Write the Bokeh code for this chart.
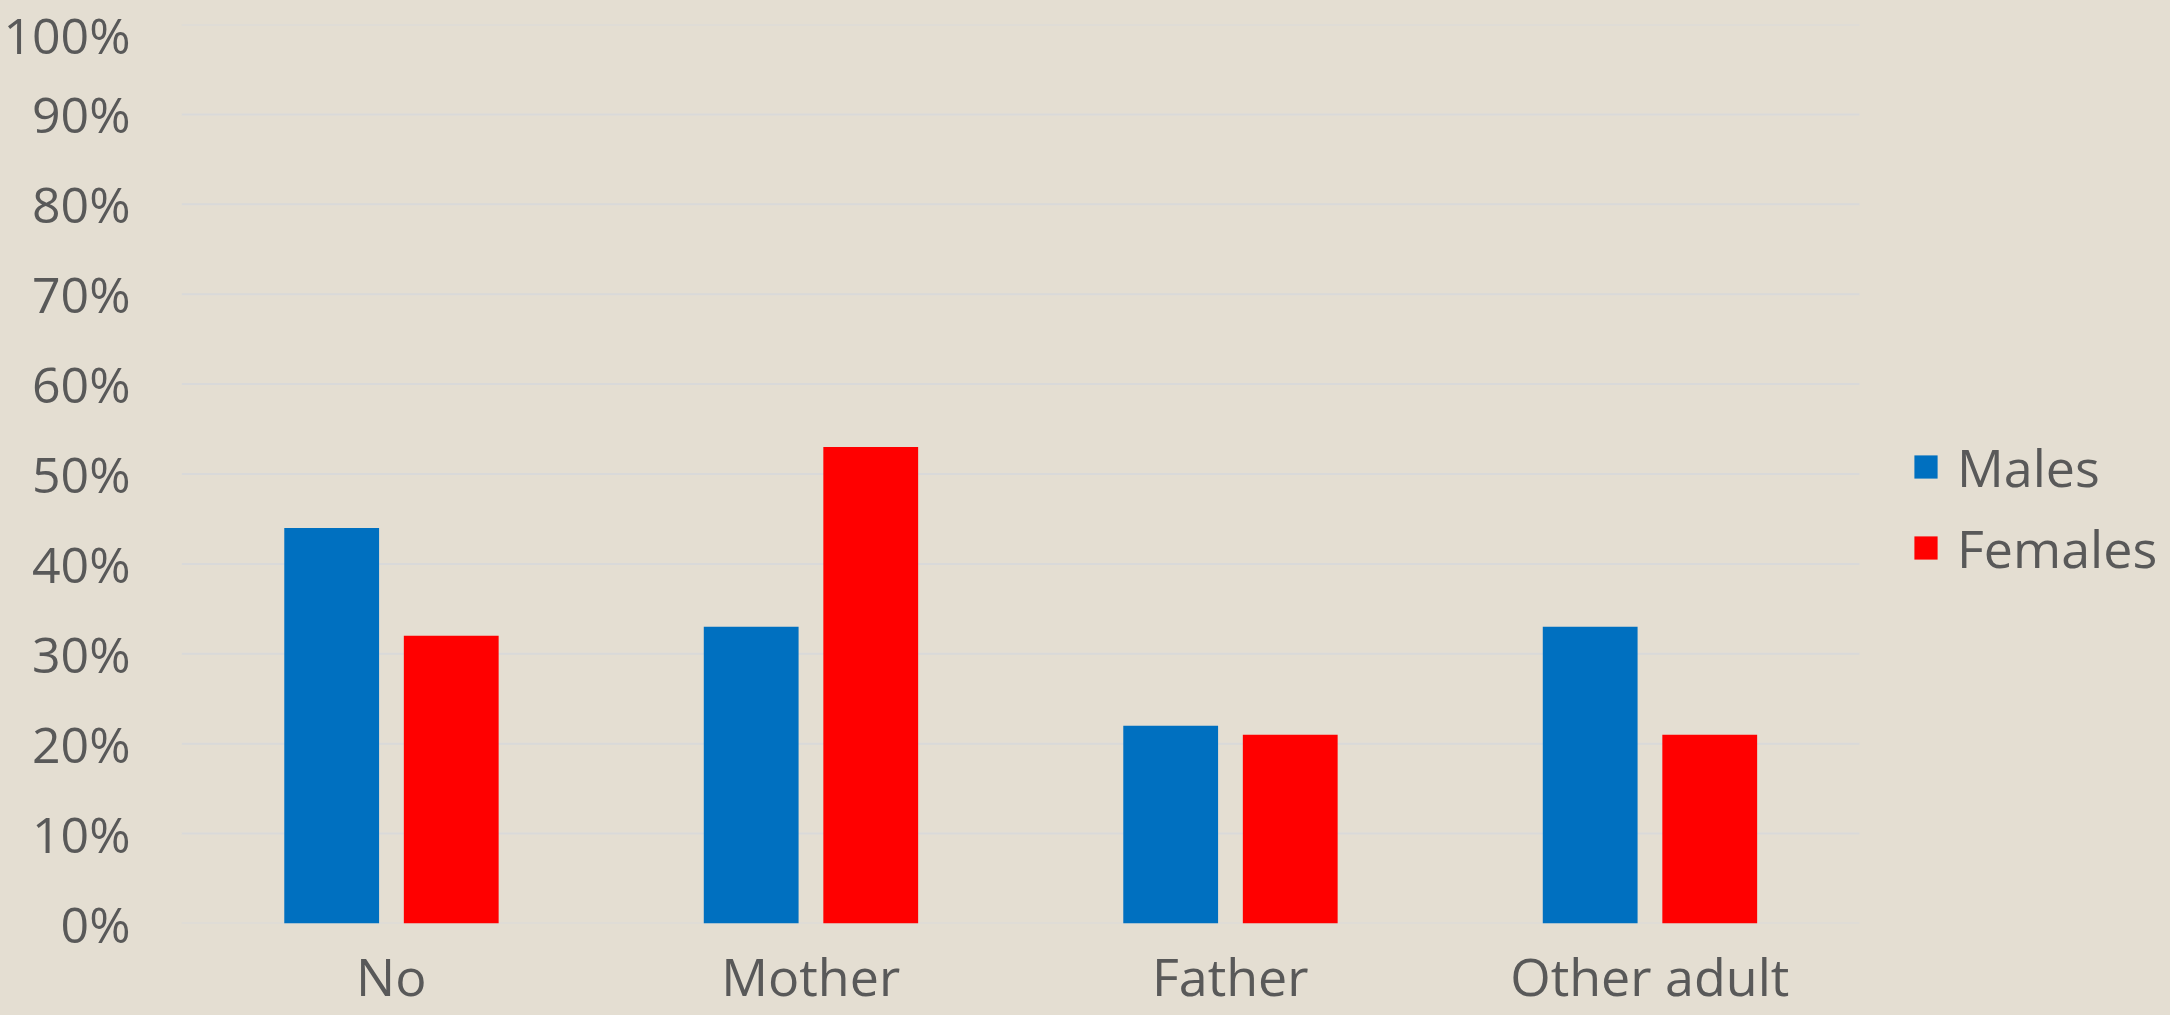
from bokeh.plotting import figure
from bokeh.models import (ColumnDataSource, Range1d, FixedTicker, PrintfTickFormatter,
                          Legend, LegendItem, GlobalInlineStyleSheet)
from bokeh.transform import dodge
from bokeh.embed import file_html
from bokeh.resources import INLINE

categories = ["No", "Mother", "Father", "Other adult"]
males = [44, 33, 22, 33]
females = [32, 53, 21, 21]
y_ticks = [0, 10, 20, 30, 40, 50, 60, 70, 80, 90, 100]

BG = "#E4DED2"
TXT = "#595959"
FONT = "Open Sans"
FS = "50px"
FS2 = "52px"

W, H = 2170, 1015
LEFT, TOP, BOTTOM = 181, 24, 92
CAT_PX = 419.5  # pixel width of one category slot

pos = list(range(1, len(categories) + 1))
src = ColumnDataSource(dict(pos=pos, cat=categories, males=males, females=females))

frame_w = W - LEFT
p = figure(width=W, height=H, x_range=Range1d(0.5, 0.5 + frame_w / CAT_PX), y_range=Range1d(0, 100),
           output_backend="svg", toolbar_location=None,
           min_border_left=LEFT, min_border_right=0, min_border_top=TOP, min_border_bottom=BOTTOM)
p.stylesheets = [GlobalInlineStyleSheet(css=f"body {{ background: {BG}; }}")]
p.background_fill_color = BG
p.border_fill_color = BG
p.outline_line_color = None
p.xgrid.grid_line_color = None
p.ygrid.grid_line_color = None

# horizontal gridlines limited to the category area
p.segment(x0=0.5, x1=0.5 + len(categories), y0=y_ticks, y1=y_ticks,
          line_color="#D9D9D9", line_width=2)

r_m = p.vbar(x=dodge("pos", -0.142), top="males", width=0.226, source=src,
             fill_color="#0070C0", line_color=None)
r_f = p.vbar(x=dodge("pos", 0.143), top="females", width=0.226, source=src,
             fill_color="#FF0000", line_color=None)

p.yaxis.ticker = FixedTicker(ticks=y_ticks)
p.yaxis.formatter = PrintfTickFormatter(format="%d%%")
p.xaxis.ticker = FixedTicker(ticks=pos)
p.xaxis.major_label_overrides = {k: c for k, c in zip(pos, categories)}
for ax in (p.xaxis[0], p.yaxis[0]):
    ax.axis_line_color = None
    ax.major_tick_line_color = None
    ax.minor_tick_line_color = None
    ax.major_tick_out = 0
    ax.major_tick_in = 0
    ax.major_label_text_font = FONT
    ax.major_label_text_color = TXT
p.yaxis.major_label_text_font_size = FS
p.xaxis.major_label_text_font_size = FS2
p.yaxis.major_label_standoff = 51
p.xaxis.major_label_standoff = 16

legend = Legend(items=[LegendItem(label="Males", renderers=[r_m]),
                       LegendItem(label="Females", renderers=[r_f])],
                location=(1730, 340))
legend.label_text_font = FONT
legend.label_text_font_size = FS2
legend.label_text_color = TXT
legend.glyph_width = 29
legend.glyph_height = 29
legend.label_height = 60
legend.spacing = 10
legend.label_standoff = 17
legend.padding = 0
legend.margin = 0
legend.border_line_color = None
legend.background_fill_alpha = 0
p.add_layout(legend, "center")

open("out.html", "w").write(file_html(p, INLINE))
